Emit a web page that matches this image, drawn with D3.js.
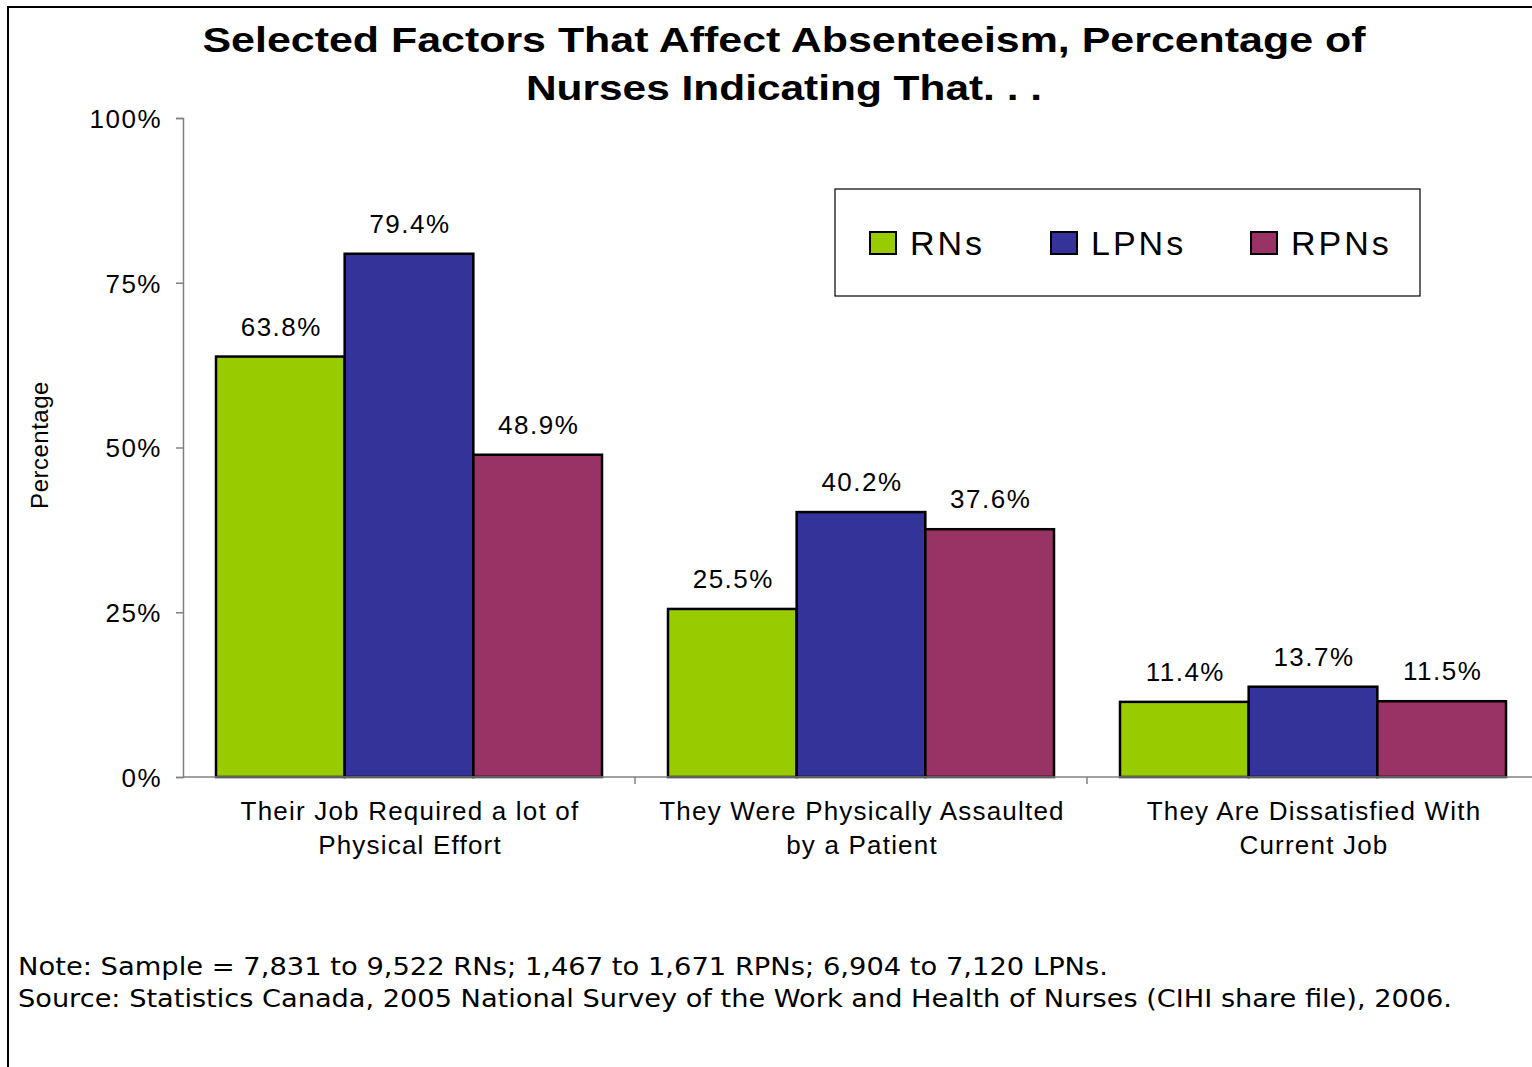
<!DOCTYPE html>
<html>
<head>
<meta charset="utf-8">
<script src="https://cdn.jsdelivr.net/npm/d3@7"></script>
<style>
  body { margin: 0; background: #fff; }
  svg { display: block; font-family: "Liberation Sans", Arial, sans-serif; }
</style>
</head>
<body>
<svg id="chart" width="1532" height="1067"></svg>
<script>
const categories = [
  ["Their Job Required a lot of", "Physical Effort"],
  ["They Were Physically Assaulted", "by a Patient"],
  ["They Are Dissatisfied With", "Current Job"]
];
const series = ["RNs", "LPNs", "RPNs"];
const colors = ["#99cc00", "#333399", "#993366"];
const rnValues = [63.8, 25.5, 11.4];
const lpnValues = [79.4, 40.2, 13.7];
const rpnValues = [48.9, 37.6, 11.5];
const yTicks = [0, 25, 50, 75, 100];
const titleLines = ["Selected Factors That Affect Absenteeism, Percentage of", "Nurses Indicating That. . ."];
const noteLines = [
  "Note: Sample = 7,831 to 9,522 RNs; 1,467 to 1,671 RPNs; 6,904 to 7,120 LPNs.",
  "Source: Statistics Canada, 2005 National Survey of the Work and Health of Nurses (CIHI share file), 2006."
];

const values = [rnValues, lpnValues, rpnValues];
const svg = d3.select("#chart");

// outer frame (right/bottom edges fall off the picture)
svg.append("rect")
  .attr("x", 8).attr("y", 7)
  .attr("width", 1600).attr("height", 1200)
  .attr("fill", "none").attr("stroke", "#000").attr("stroke-width", 2);

// title
const titleWidths = [1163, 516];
titleLines.forEach((ln, k) => {
  svg.append("text")
    .attr("x", 784).attr("y", 52 + k * 48)
    .attr("text-anchor", "middle")
    .attr("font-weight", "bold")
    .attr("font-size", 35)
    .attr("textLength", titleWidths[k])
    .attr("lengthAdjust", "spacingAndGlyphs")
    .text(ln);
});

const plotLeft = 183, plotTop = 118, plotBottom = 777;
const x0 = d3.scaleBand()
  .domain(d3.range(categories.length))
  .range([plotLeft, plotLeft + 452 * 3])
  .paddingInner(0).paddingOuter(0);
const x1 = d3.scaleBand()
  .domain(series)
  .range([33, 452 - 33]);
const y = d3.scaleLinear().domain([0, 100]).range([plotBottom, plotTop]);

// y axis
const yAxis = svg.append("g")
  .attr("transform", `translate(${plotLeft},0)`)
  .call(d3.axisLeft(y).tickValues(yTicks).tickSize(7).tickPadding(14)
    .tickFormat(d => d + "%"));
yAxis.select(".domain").attr("stroke", "#808080").attr("stroke-width", 1.5);
yAxis.selectAll(".tick line").attr("stroke", "#808080").attr("stroke-width", 1.5);
yAxis.selectAll(".tick text")
  .attr("font-size", 26).attr("fill", "#000")
  .attr("letter-spacing", 1.5)
  .attr("font-family", "Liberation Sans, Arial, sans-serif")
  .attr("dy", "0.36em");

svg.append("text")
  .attr("transform", "translate(48,445) rotate(-90)")
  .attr("text-anchor", "middle")
  .attr("font-size", 24)
  .attr("letter-spacing", 0.5)
  .text("Percentage");

// bars
const groups = svg.append("g").selectAll("g")
  .data(categories.map((c, i) => i))
  .join("g")
  .attr("transform", i => `translate(${x0(i)},0)`);

groups.selectAll("rect")
  .data(i => series.map((s, j) => ({ s, j, v: values[j][i] })))
  .join("rect")
  .attr("x", d => x1(d.s))
  .attr("y", d => y(d.v))
  .attr("width", x1.bandwidth())
  .attr("height", d => plotBottom - y(d.v))
  .attr("fill", d => colors[d.j])
  .attr("stroke", "#000")
  .attr("stroke-width", 2.5);

groups.selectAll("text.val")
  .data(i => series.map((s, j) => ({ s, j, v: values[j][i] })))
  .join("text")
  .attr("class", "val")
  .attr("x", d => x1(d.s) + x1.bandwidth() / 2 + 1)
  .attr("y", d => y(d.v) - 21)
  .attr("text-anchor", "middle")
  .attr("font-size", 26)
  .attr("letter-spacing", 1.5)
  .text(d => d.v.toFixed(1) + "%");

// x axis
const xAxis = svg.append("g")
  .attr("transform", `translate(0,${plotBottom})`);
xAxis.append("line")
  .attr("x1", plotLeft).attr("x2", 1532)
  .attr("stroke", "#808080").attr("stroke-width", 1.5);
xAxis.selectAll("line.tick")
  .data(d3.range(1, categories.length))
  .join("line")
  .attr("class", "tick")
  .attr("x1", i => x0(i)).attr("x2", i => x0(i))
  .attr("y1", 0).attr("y2", 7)
  .attr("stroke", "#808080").attr("stroke-width", 1.5);

const catLabels = xAxis.selectAll("text")
  .data(categories)
  .join("text")
  .attr("text-anchor", "middle")
  .attr("font-size", 26)
  .attr("letter-spacing", 1.2);
catLabels.each(function(lines, i) {
  const t = d3.select(this);
  lines.forEach((ln, k) => {
    t.append("tspan")
      .attr("x", x0(i) + x0.bandwidth() / 2 + 1)
      .attr("y", 43 + k * 34)
      .text(ln);
  });
});

// legend
const legend = svg.append("g");
legend.append("rect")
  .attr("x", 835).attr("y", 189).attr("width", 585).attr("height", 107)
  .attr("fill", "#fff").attr("stroke", "#000").attr("stroke-width", 1.2);
const legendX = [870, 1051, 1251];
series.forEach((s, j) => {
  legend.append("rect")
    .attr("x", legendX[j]).attr("y", 232)
    .attr("width", 26).attr("height", 22)
    .attr("fill", colors[j]).attr("stroke", "#000").attr("stroke-width", 2);
  legend.append("text")
    .attr("x", legendX[j] + 40).attr("y", 255)
    .attr("font-size", 34)
    .attr("letter-spacing", 3)
    .text(s);
});

// notes
const noteWidths = [1090, 1434];
noteLines.forEach((ln, k) => {
  svg.append("text")
    .attr("x", 18).attr("y", 975 + k * 32)
    .attr("font-size", 24)
    .attr("font-family", "DejaVu Sans, sans-serif")
    .attr("textLength", noteWidths[k])
    .attr("lengthAdjust", "spacingAndGlyphs")
    .text(ln);
});
</script>
</body>
</html>
